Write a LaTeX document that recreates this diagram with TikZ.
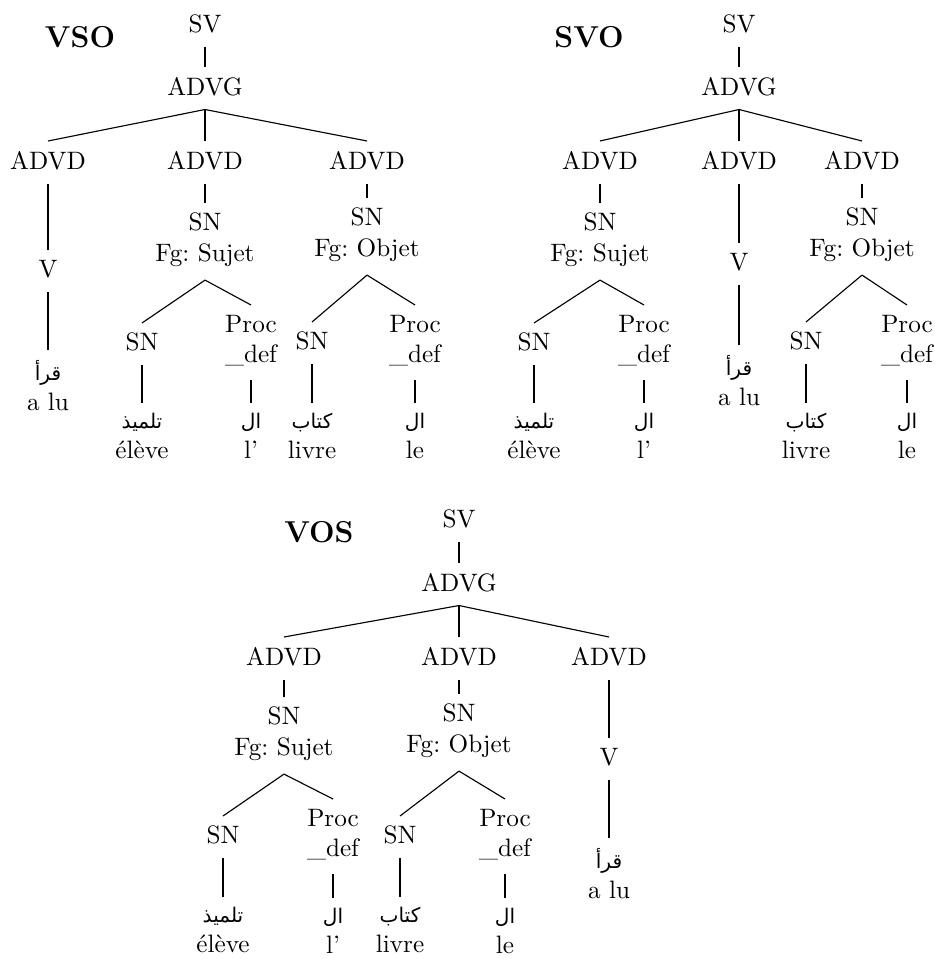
\documentclass[tikz,border=0pt]{standalone}
\usepackage{fontspec}
\newfontfamily\arabicfont[Script=Arabic,Scale=0.8]{DejaVu Sans}
\TeXXeTstate=1
\frenchspacing
\newcommand{\arword}[1]{{\arabicfont\beginR #1\endR}}
\begin{document}
\begin{tikzpicture}[x=0.397pt, y=-0.397pt,
    cat/.style={align=center, inner sep=0pt, outer sep=4pt, anchor=north},
    order/.style={font=\large\bfseries},
    branch/.style={line width=0.45pt}]
  \useasboundingbox (0,0) rectangle (934,959);
  % VSO
  \node[order] (vso) at (80,37) {VSO};
  \node[cat] (sv1) at (205,5) {SV};
  \node[cat] (advg1) at (205,67) {ADVG};
  \node[cat] (advd1a) at (48,141) {ADVD};
  \node[cat] (advd1b) at (205,141) {ADVD};
  \node[cat] (advd1c) at (367,141) {ADVD};
  \node[cat] (v1) at (48,250) {V};
  \node[cat] (lu1) at (48,350) {\arword{قرأ}\\a lu};
  \node[cat] (np1s) at (205,203) {SN\\Fg: Sujet};
  \node[cat] (np1o) at (367,198) {SN\\Fg: Objet};
  \node[cat] (sn1s) at (142,323) {SN};
  \node[cat] (pd1s) at (251,305) {Proc\\\_def};
  \node[cat] (eleve1) at (142,403) {\arword{تلميذ}\\élève};
  \node[cat] (art1s) at (251,403) {\arword{ال}\\l'};
  \node[cat] (sn1o) at (312,322) {SN};
  \node[cat] (pd1o) at (415,305) {Proc\\\_def};
  \node[cat] (livre1) at (312,403) {\arword{كتاب}\\livre};
  \node[cat] (art1o) at (415,403) {\arword{ال}\\le};
  \draw[branch] ([yshift=-1.5pt]sv1.south) -- (advg1.north);
  \draw[branch] ([yshift=-1.5pt]advg1.south) -- (advd1a.north);
  \draw[branch] ([yshift=-1.5pt]advg1.south) -- (advd1b.north);
  \draw[branch] ([yshift=-1.5pt]advg1.south) -- (advd1c.north);
  \draw[branch] ([yshift=-1.5pt]advd1a.south) -- (v1.north);
  \draw[branch] ([yshift=-1.5pt]v1.south) -- (lu1.north);
  \draw[branch] ([yshift=-1.5pt]advd1b.south) -- (np1s.north);
  \draw[branch] ([yshift=-1.5pt]advd1c.south) -- (np1o.north);
  \draw[branch] ([yshift=-1.5pt]np1s.south) -- (sn1s.north);
  \draw[branch] ([yshift=-1.5pt]np1s.south) -- (pd1s.north);
  \draw[branch] ([yshift=-1.5pt]sn1s.south) -- (eleve1.north);
  \draw[branch] ([yshift=-1.5pt]pd1s.south) -- (art1s.north);
  \draw[branch] ([yshift=-1.5pt]np1o.south) -- (sn1o.north);
  \draw[branch] ([yshift=-1.5pt]np1o.south) -- (pd1o.north);
  \draw[branch] ([yshift=-1.5pt]sn1o.south) -- (livre1.north);
  \draw[branch] ([yshift=-1.5pt]pd1o.south) -- (art1o.north);
  % SVO
  \node[order] (svo) at (589,37) {SVO};
  \node[cat] (sv2) at (739,5) {SV};
  \node[cat] (advg2) at (739,67) {ADVG};
  \node[cat] (advd2a) at (600,141) {ADVD};
  \node[cat] (advd2b) at (739,141) {ADVD};
  \node[cat] (advd2c) at (862,141) {ADVD};
  \node[cat] (np2s) at (600,203) {SN\\Fg: Sujet};
  \node[cat] (v2) at (739,243) {V};
  \node[cat] (lu2) at (739,345) {\arword{قرأ}\\a lu};
  \node[cat] (np2o) at (862,198) {SN\\Fg: Objet};
  \node[cat] (sn2s) at (534,323) {SN};
  \node[cat] (pd2s) at (644,305) {Proc\\\_def};
  \node[cat] (eleve2) at (534,403) {\arword{تلميذ}\\élève};
  \node[cat] (art2s) at (644,403) {\arword{ال}\\l'};
  \node[cat] (sn2o) at (806,322) {SN};
  \node[cat] (pd2o) at (907,305) {Proc\\\_def};
  \node[cat] (livre2) at (806,403) {\arword{كتاب}\\livre};
  \node[cat] (art2o) at (907,403) {\arword{ال}\\le};
  \draw[branch] ([yshift=-1.5pt]sv2.south) -- (advg2.north);
  \draw[branch] ([yshift=-1.5pt]advg2.south) -- (advd2a.north);
  \draw[branch] ([yshift=-1.5pt]advg2.south) -- (advd2b.north);
  \draw[branch] ([yshift=-1.5pt]advg2.south) -- (advd2c.north);
  \draw[branch] ([yshift=-1.5pt]advd2a.south) -- (np2s.north);
  \draw[branch] ([yshift=-1.5pt]advd2b.south) -- (v2.north);
  \draw[branch] ([yshift=-1.5pt]v2.south) -- (lu2.north);
  \draw[branch] ([yshift=-1.5pt]advd2c.south) -- (np2o.north);
  \draw[branch] ([yshift=-1.5pt]np2s.south) -- (sn2s.north);
  \draw[branch] ([yshift=-1.5pt]np2s.south) -- (pd2s.north);
  \draw[branch] ([yshift=-1.5pt]sn2s.south) -- (eleve2.north);
  \draw[branch] ([yshift=-1.5pt]pd2s.south) -- (art2s.north);
  \draw[branch] ([yshift=-1.5pt]np2o.south) -- (sn2o.north);
  \draw[branch] ([yshift=-1.5pt]np2o.south) -- (pd2o.north);
  \draw[branch] ([yshift=-1.5pt]sn2o.south) -- (livre2.north);
  \draw[branch] ([yshift=-1.5pt]pd2o.south) -- (art2o.north);
  % VOS
  \node[order] (vos) at (319,532) {VOS};
  \node[cat] (sv3) at (459,500) {SV};
  \node[cat] (advg3) at (459,563) {ADVG};
  \node[cat] (advd3a) at (284,637) {ADVD};
  \node[cat] (advd3b) at (459,637) {ADVD};
  \node[cat] (advd3c) at (609,637) {ADVD};
  \node[cat] (np3s) at (284,697) {SN\\Fg: Sujet};
  \node[cat] (np3o) at (459,694) {SN\\Fg: Objet};
  \node[cat] (v3) at (609,738) {V};
  \node[cat] (lu3) at (609,838) {\arword{قرأ}\\a lu};
  \node[cat] (sn3s) at (223,816) {SN};
  \node[cat] (pd3s) at (333,799) {Proc\\\_def};
  \node[cat] (eleve3) at (223,897) {\arword{تلميذ}\\élève};
  \node[cat] (art3s) at (333,898) {\arword{ال}\\l'};
  \node[cat] (sn3o) at (400,816) {SN};
  \node[cat] (pd3o) at (505,799) {Proc\\\_def};
  \node[cat] (livre3) at (400,897) {\arword{كتاب}\\livre};
  \node[cat] (art3o) at (505,898) {\arword{ال}\\le};
  \draw[branch] ([yshift=-1.5pt]sv3.south) -- (advg3.north);
  \draw[branch] ([yshift=-1.5pt]advg3.south) -- (advd3a.north);
  \draw[branch] ([yshift=-1.5pt]advg3.south) -- (advd3b.north);
  \draw[branch] ([yshift=-1.5pt]advg3.south) -- (advd3c.north);
  \draw[branch] ([yshift=-1.5pt]advd3a.south) -- (np3s.north);
  \draw[branch] ([yshift=-1.5pt]advd3b.south) -- (np3o.north);
  \draw[branch] ([yshift=-1.5pt]advd3c.south) -- (v3.north);
  \draw[branch] ([yshift=-1.5pt]v3.south) -- (lu3.north);
  \draw[branch] ([yshift=-1.5pt]np3s.south) -- (sn3s.north);
  \draw[branch] ([yshift=-1.5pt]np3s.south) -- (pd3s.north);
  \draw[branch] ([yshift=-1.5pt]sn3s.south) -- (eleve3.north);
  \draw[branch] ([yshift=-1.5pt]pd3s.south) -- (art3s.north);
  \draw[branch] ([yshift=-1.5pt]np3o.south) -- (sn3o.north);
  \draw[branch] ([yshift=-1.5pt]np3o.south) -- (pd3o.north);
  \draw[branch] ([yshift=-1.5pt]sn3o.south) -- (livre3.north);
  \draw[branch] ([yshift=-1.5pt]pd3o.south) -- (art3o.north);
\end{tikzpicture}
\end{document}
